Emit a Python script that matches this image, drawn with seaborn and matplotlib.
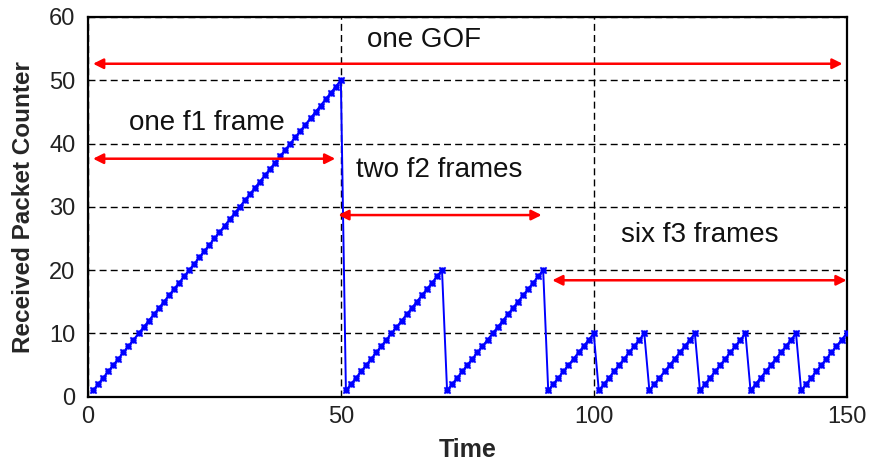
import matplotlib
matplotlib.use("Agg")
import matplotlib.pyplot as plt
import seaborn as sns
import pandas as pd

# ---- data ----
time = list(range(1, 151))
counter = [
    # one f1 frame (t = 1..50)
    1, 2, 3, 4, 5, 6, 7, 8, 9, 10, 11, 12, 13, 14, 15, 16, 17, 18, 19, 20,
    21, 22, 23, 24, 25, 26, 27, 28, 29, 30, 31, 32, 33, 34, 35, 36, 37, 38, 39, 40,
    41, 42, 43, 44, 45, 46, 47, 48, 49, 50,
    # two f2 frames (t = 51..90)
    1, 2, 3, 4, 5, 6, 7, 8, 9, 10, 11, 12, 13, 14, 15, 16, 17, 18, 19, 20,
    1, 2, 3, 4, 5, 6, 7, 8, 9, 10, 11, 12, 13, 14, 15, 16, 17, 18, 19, 20,
    # six f3 frames (t = 91..150)
    1, 2, 3, 4, 5, 6, 7, 8, 9, 10,
    1, 2, 3, 4, 5, 6, 7, 8, 9, 10,
    1, 2, 3, 4, 5, 6, 7, 8, 9, 10,
    1, 2, 3, 4, 5, 6, 7, 8, 9, 10,
    1, 2, 3, 4, 5, 6, 7, 8, 9, 10,
    1, 2, 3, 4, 5, 6, 7, 8, 9, 10,
]

# annotation arrows: (x_start, x_end, y)
arrow_labels = ["one GOF", "one f1 frame", "two f2 frames", "six f3 frames"]
arrow_x0 = [1, 1, 49.5, 91.8]
arrow_x1 = [149.2, 48.9, 89.7, 150.0]
arrow_y = [52.6, 37.6, 28.7, 18.4]
label_x = [55.2, 8.2, 53.0, 105.3]
label_y = [56.3, 43.2, 35.8, 25.5]

x_ticks = [0, 50, 100, 150]
y_ticks = [0, 10, 20, 30, 40, 50, 60]

df = pd.DataFrame({"Time": time, "Received Packet Counter": counter})

sns.set_theme(style="white")
plt.rcParams["font.family"] = ["Liberation Sans", "DejaVu Sans"]

fig = plt.figure(figsize=(8.71, 4.69), dpi=100)
ax = fig.add_axes([0.101, 0.154, 0.871, 0.81])

sns.lineplot(data=df, x="Time", y="Received Packet Counter", ax=ax,
             color="#0000ff", linewidth=1.4, marker="o", markersize=4.5,
             markeredgewidth=0, zorder=3)
sns.scatterplot(data=df, x="Time", y="Received Packet Counter", ax=ax,
                color="#0000ff", marker="x", s=20, linewidth=1.3, zorder=4)

ax.set_xlim(0, 150)
ax.set_ylim(0, 60)
ax.set_xticks(x_ticks)
ax.set_yticks(y_ticks)
ax.grid(True, color="black", linestyle=(0, (5, 3)), linewidth=1.0)
ax.set_axisbelow(True)
ax.tick_params(axis="both", direction="in", length=4, width=1, colors="black",
               labelsize=17, labelcolor="#222222")
ax.tick_params(axis="y", pad=9)
ax.tick_params(axis="x", pad=7)
for s in ax.spines.values():
    s.set_color("black")
    s.set_linewidth(1.6)

ax.set_xlabel("Time", fontsize=18, fontweight="bold", labelpad=7)
ax.set_ylabel("Received Packet Counter", fontsize=17.5, fontweight="bold", labelpad=10)

for lab, x0, x1, y, lx, ly in zip(arrow_labels, arrow_x0, arrow_x1, arrow_y, label_x, label_y):
    ax.annotate("", xy=(x1, y), xytext=(x0, y),
                arrowprops=dict(arrowstyle="<|-|>", color="#ff0000", lw=1.8,
                                mutation_scale=15, shrinkA=0, shrinkB=0),
                zorder=5, annotation_clip=False)
    ax.text(lx, ly, lab, fontsize=20, color="#111111", ha="left", va="center", zorder=6)

fig.savefig("out.png", dpi=100)
